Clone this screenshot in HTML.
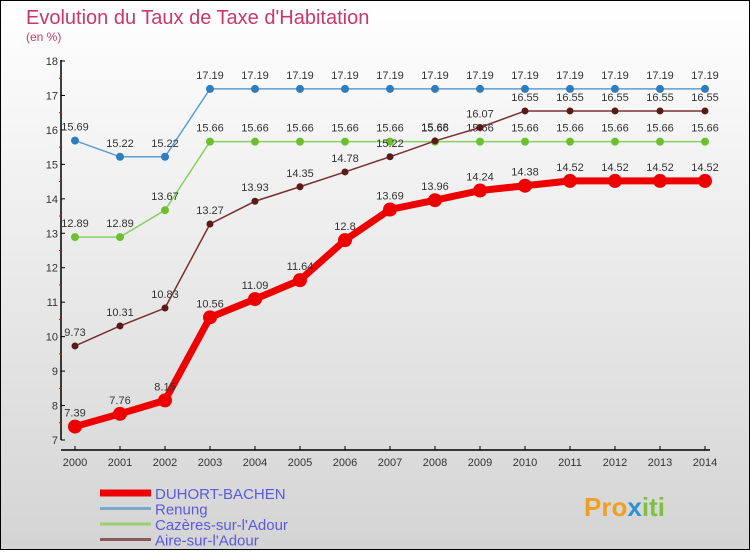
<!DOCTYPE html>
<html><head><meta charset="utf-8"><style>
body{margin:0;width:750px;height:550px;overflow:hidden;font-family:"Liberation Sans",sans-serif}
</style></head><body>
<svg width="750" height="550" xmlns="http://www.w3.org/2000/svg">
<defs><linearGradient id="bg" x1="0" y1="0" x2="0" y2="1"><stop offset="0" stop-color="#ffffff"/><stop offset="1" stop-color="#d4d4d4"/></linearGradient></defs>
<rect x="0.5" y="0.5" width="749" height="549" fill="url(#bg)" stroke="#000"/>
<text x="26" y="24" font-size="20" fill="#c8386a">Evolution du Taux de Taxe d'Habitation</text>
<text x="26" y="41" font-size="12" fill="#c8386a">(en %)</text>
<g id="axes"></g><g id="series"></g><g id="legend"></g>
<text x="584" y="516" font-size="26" font-weight="bold" fill="#f0a020">Pro<tspan fill="#3090d0">x</tspan><tspan fill="#80c040">iti</tspan></text>
</svg>
<script>
const years=[2000,2001,2002,2003,2004,2005,2006,2007,2008,2009,2010,2011,2012,2013,2014];
const duhort=[7.39,7.76,8.15,10.56,11.09,11.64,12.8,13.69,13.96,14.24,14.38,14.52,14.52,14.52,14.52];
const renung=[15.69,15.22,15.22,17.19,17.19,17.19,17.19,17.19,17.19,17.19,17.19,17.19,17.19,17.19,17.19];
const cazeres=[12.89,12.89,13.67,15.66,15.66,15.66,15.66,15.66,15.66,15.66,15.66,15.66,15.66,15.66,15.66];
const aire=[9.73,10.31,10.83,13.27,13.93,14.35,14.78,15.22,15.68,16.07,16.55,16.55,16.55,16.55,16.55];
const yTicks=[7,8,9,10,11,12,13,14,15,16,17,18];
const NS="http://www.w3.org/2000/svg";
const X=i=>75+i*45, Y=v=>440-(v-7)*(379/11);
function mk(t,a,p){const e=document.createElementNS(NS,t);for(const k in a)e.setAttribute(k,a[k]);p.appendChild(e);return e;}
const ax=document.getElementById('axes');
let yl=mk('line',{x1:61,y1:60,x2:61,y2:440,stroke:'#000','stroke-width':1.5},ax);


let xl=mk('line',{x1:61,y1:450,x2:710,y2:450,stroke:'#000','stroke-width':1.5},ax);


yTicks.forEach(v=>{
  mk('line',{x1:61,y1:Y(v),x2:65,y2:Y(v),stroke:'#000'},ax);
  if(v<18)mk('line',{x1:59,y1:Y(v+0.5),x2:62,y2:Y(v+0.5),stroke:'#e00'},ax);
  const t=mk('text',{x:58,y:Y(v)+4,'font-size':11,fill:'#333','text-anchor':'end'},ax);t.textContent=v;
  
  
});
years.forEach((yr,i)=>{
  mk('line',{x1:X(i),y1:446,x2:X(i),y2:450,stroke:'#000'},ax);
  const t=mk('text',{x:X(i),y:466,'font-size':11,fill:'#333','text-anchor':'middle'},ax);t.textContent=yr;
  
  
});
const sg=document.getElementById('series');
function series(d,col,dot,w,r,name){
  const g=mk('g',{},sg);
  
  
  mk('polyline',{points:d.map((v,i)=>X(i)+','+Y(v)).join(' '),fill:'none',stroke:col,'stroke-width':w},g);
  d.forEach((v,i)=>{
    const c=mk('circle',{cx:X(i),cy:Y(v),r:r,fill:dot},g);
    
    
    const t=mk('text',{x:X(i),y:Y(v)-10,'font-size':11,fill:'#333','text-anchor':'middle'},g);t.textContent=v;
  });
}
series(renung,'#5a9fd4','#2e7dbf',1.5,4,'series-renung');
series(cazeres,'#88d060','#6cc030',1.5,4,'series-cazeres');
series(aire,'#7a3030','#5a1a1a',1.5,3.5,'series-aire');
series(duhort,'#ee0000','#ee0000',7,7,'series-duhort');
const lg=document.getElementById('legend');
[['DUHORT-BACHEN','#ee0000',7],['Renung','#7aa8cc',3],['Cazères-sur-l\'Adour','#9ad070',3],['Aire-sur-l\'Adour','#8a5a5a',3]].forEach((e,i)=>{
  const y=493+i*15.5;
  const g=mk('g',{},lg);
  
  
  mk('line',{x1:100,y1:y,x2:151,y2:y,stroke:e[1],'stroke-width':e[2]},g);
  const t=mk('text',{x:155,y:y+6,'font-size':15,fill:'#5a5ae0'},g);t.textContent=e[0];
});
</script>
</body></html>
